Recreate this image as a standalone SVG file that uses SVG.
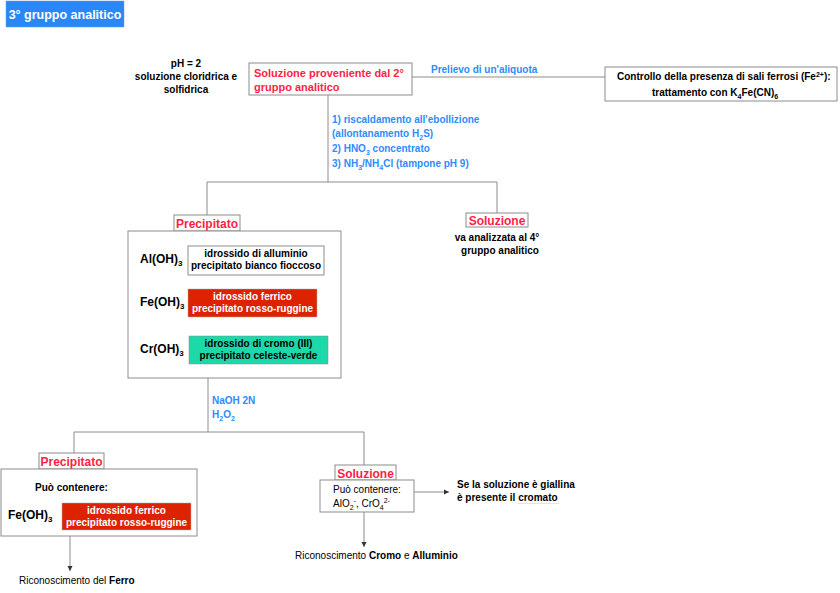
<svg xmlns="http://www.w3.org/2000/svg" width="840" height="593" viewBox="0 0 840 593">
<defs>
<style>
text{font-family:"Liberation Sans",Arial,sans-serif;font-weight:bold;font-size:10px;fill:#000}
.n{font-weight:normal}
.red{fill:#ff2244}
.blue{fill:#2d8cff}
.w{fill:#fff}
.lbl{font-size:12px}
.f{font-size:12px}
.box{fill:#fff;stroke:#8c8c8c;stroke-width:1}
.ln{fill:none;stroke:#8c8c8c;stroke-width:1}
.mid{text-anchor:middle}
</style>
<marker id="ah" markerWidth="6" markerHeight="6" refX="5" refY="3" orient="auto" markerUnits="userSpaceOnUse">
<path d="M0,0.5 L5,3 L0,5.5 z" fill="#333"/>
</marker>
</defs>
<rect width="840" height="593" fill="#fff"/>

<g id="title">
<rect x="6" y="1" width="118" height="26" fill="#2b87f5" stroke="#6a9ad8" stroke-width="0.5"/>
<text x="65" y="19" class="w mid" style="font-size:12.5px">3° gruppo analitico</text>
</g>

<g id="connectors">
<path class="ln" d="M412,77 H605"/>
<path class="ln" d="M328,95 V182"/>
<path class="ln" d="M207,182 H497"/>
<path class="ln" d="M207,182 V215"/>
<path class="ln" d="M497,182 V213"/>
<path class="ln" d="M208,378 V432"/>
<path class="ln" d="M74,432 H364"/>
<path class="ln" d="M74,432 V453"/>
<path class="ln" d="M364,432 V465"/>
<path class="ln" d="M70,536 V571" marker-end="url(#ah)" stroke="#555"/>
<path class="ln" d="M364,512 V547" marker-end="url(#ah)"/>
<path class="ln" d="M414,492 H449" marker-end="url(#ah)"/>
</g>

<g id="ph">
<text x="186" y="67" class="mid">pH = 2</text>
<text x="186" y="80" class="mid">soluzione cloridrica e</text>
<text x="186" y="93" class="mid">solfidrica</text>
</g>

<g id="start">
<rect class="box" x="249" y="63" width="163" height="32" stroke="#999"/>
<text x="254" y="77" class="red" style="font-size:11px">Soluzione proveniente dal 2°</text>
<text x="254" y="91" class="red" style="font-size:11px">gruppo analitico</text>
</g>

<g id="aliquota">
<text x="431" y="73" class="blue">Prelievo di un'aliquota</text>
</g>

<g id="controllo">
<rect class="box" x="605" y="67" width="232" height="34"/>
<text x="617" y="80">Controllo della presenza di sali ferrosi (Fe<tspan dy="-3" font-size="7">2+</tspan><tspan dy="3">):</tspan></text>
<text x="652" y="96">trattamento con K<tspan dy="3" font-size="7">4</tspan><tspan dy="-3">Fe(CN)</tspan><tspan dy="3" font-size="7">6</tspan></text>
</g>

<g id="steps">
<text x="332" y="123" class="blue">1) riscaldamento all'ebollizione</text>
<text x="332" y="137" class="blue">(allontanamento H<tspan dy="3" font-size="7">2</tspan><tspan dy="-3">S)</tspan></text>
<text x="332" y="152" class="blue">2) HNO<tspan dy="3" font-size="7">3</tspan><tspan dy="-3"> concentrato</tspan></text>
<text x="332" y="167" class="blue">3) NH<tspan dy="3" font-size="7">3</tspan><tspan dy="-3">/NH</tspan><tspan dy="3" font-size="7">4</tspan><tspan dy="-3">Cl (tampone pH 9)</tspan></text>
</g>

<g id="precipitato1">
<rect class="box" x="174" y="215" width="66" height="16"/>
<text x="207" y="228" class="red lbl mid">Precipitato</text>
<rect class="box" x="128" y="231" width="213" height="147"/>
<text x="140" y="263" class="f">Al(OH)<tspan dy="3" font-size="8">3</tspan></text>
<rect class="box" x="188" y="246" width="136" height="29"/>
<text x="256" y="257" class="mid">idrossido di alluminio</text>
<text x="256" y="269" class="mid">precipitato bianco fioccoso</text>
<text x="140" y="306" class="f">Fe(OH)<tspan dy="3" font-size="8">3</tspan></text>
<rect x="188" y="289" width="129" height="28" fill="#dd2200" stroke="#b0b0b0" stroke-width="0.5"/>
<text x="252.5" y="300" class="w mid">idrossido ferrico</text>
<text x="252.5" y="312" class="w mid">precipitato rosso-ruggine</text>
<text x="140" y="353" class="f">Cr(OH)<tspan dy="3" font-size="8">3</tspan></text>
<rect x="189" y="336" width="139" height="28" fill="#1cd9a9" stroke="#8c8c8c" stroke-width="0.5"/>
<text x="258.5" y="347" class="mid">idrossido di cromo (III)</text>
<text x="258.5" y="359" class="mid">precipitato celeste-verde</text>
</g>

<g id="soluzione1">
<rect class="box" x="466" y="213" width="62" height="14"/>
<text x="497" y="225" class="red lbl mid">Soluzione</text>
<text x="497" y="241" class="mid">va analizzata al 4°</text>
<text x="500" y="254" class="mid">gruppo analitico</text>
</g>

<g id="naoh">
<text x="212" y="404" class="blue">NaOH 2N</text>
<text x="212" y="418" class="blue">H<tspan dy="3" font-size="7">2</tspan><tspan dy="-3">O</tspan><tspan dy="3" font-size="7">2</tspan></text>
</g>

<g id="precipitato2">
<rect class="box" x="39" y="453" width="65" height="16"/>
<text x="71.5" y="466" class="red lbl mid">Precipitato</text>
<rect class="box" x="1" y="469" width="196" height="67"/>
<text x="35" y="491">Può contenere:</text>
<text x="8" y="519" class="f">Fe(OH)<tspan dy="3" font-size="8">3</tspan></text>
<rect x="62" y="503" width="129" height="27" fill="#dd2200" stroke="#b0b0b0" stroke-width="0.5"/>
<text x="126.5" y="514" class="w mid">idrossido ferrico</text>
<text x="126.5" y="526" class="w mid">precipitato rosso-ruggine</text>
</g>

<g id="ferro">
<text x="19" y="584" class="n">Riconoscimento del <tspan font-weight="bold">Ferro</tspan></text>
</g>

<g id="soluzione2">
<rect class="box" x="335" y="465" width="61" height="15"/>
<text x="365.5" y="478" class="red lbl mid">Soluzione</text>
<rect class="box" x="320" y="480" width="94" height="32"/>
<text x="333" y="493" class="n">Può contenere:</text>
<text x="333" y="507" class="n">AlO<tspan dy="3" font-size="7">2</tspan><tspan dy="-7" font-size="7">-</tspan><tspan dy="4">, CrO</tspan><tspan dy="3" font-size="7">4</tspan><tspan dy="-7" font-size="7">2-</tspan></text>
</g>

<g id="giallina">
<text x="457" y="488">Se la soluzione è giallina</text>
<text x="457" y="501">è presente il cromato</text>
<path d="M518,503.5 H559" stroke="#ffee66" stroke-width="1" fill="none"/>
</g>

<g id="cromo">
<text x="295" y="559" class="n">Riconoscimento <tspan font-weight="bold">Cromo</tspan> e <tspan font-weight="bold">Alluminio</tspan></text>
</g>
</svg>
